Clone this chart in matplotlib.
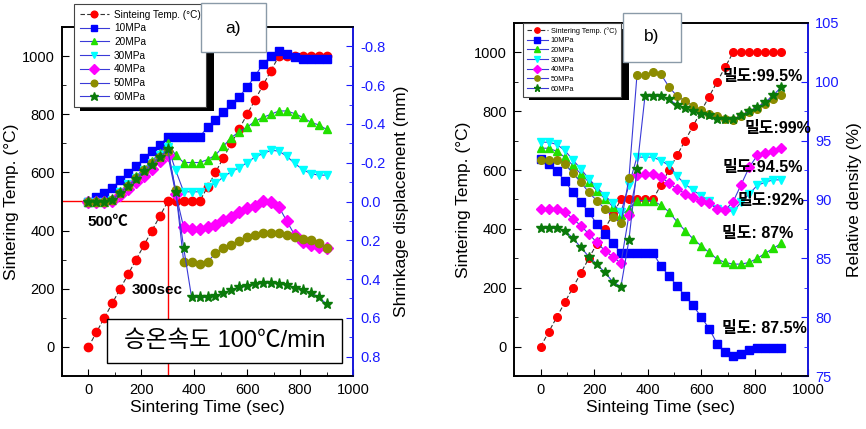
import matplotlib
matplotlib.use("Agg")
import matplotlib.pyplot as plt
from matplotlib.patches import Rectangle
from matplotlib.ticker import MultipleLocator, FormatStrFormatter

plt.rcParams['font.family'] = ['Liberation Sans', 'Noto Sans CJK KR', 'DejaVu Sans']
plt.rcParams['axes.unicode_minus'] = False

# sintering time (sec), one point every 30 s
time = [0, 30, 60, 90, 120, 150, 180, 210, 240, 270, 300, 330, 360, 390, 420, 450,
        480, 510, 540, 570, 600, 630, 660, 690, 720, 750, 780, 810, 840, 870, 900]
temp = [0, 50, 100, 150, 200, 250, 300, 350, 400, 450, 500, 500, 500, 500, 500, 550,
        600, 650, 700, 750, 800, 850, 900, 950, 1000, 1000, 1000, 1000, 1000, 1000, 1000]

labels = ['10MPa', '20MPa', '30MPa', '40MPa', '50MPa', '60MPa']

# a) shrinkage displacement (mm)
disp_10 = [0, -0.024, -0.045, -0.071, -0.110, -0.145, -0.184, -0.222, -0.262, -0.291, -0.333,
           -0.333, -0.333, -0.333, -0.333, -0.383, -0.421, -0.460, -0.502, -0.541, -0.590,
           -0.648, -0.710, -0.748, -0.774, -0.762, -0.745, -0.734, -0.734, -0.734, -0.734]
disp_20 = [0, 0, 0, -0.01, -0.05, -0.09, -0.13, -0.17, -0.21, -0.25, -0.30,
           -0.239, -0.201, -0.201, -0.201, -0.216, -0.239, -0.285, -0.330, -0.360, -0.384,
           -0.414, -0.434, -0.450, -0.467, -0.467, -0.453, -0.434, -0.409, -0.395, -0.372]
disp_30 = [0, 0, 0, -0.01, -0.05, -0.09, -0.12, -0.16, -0.20, -0.24, -0.28,
           -0.16, -0.05, -0.05, -0.05, -0.075, -0.093, -0.127, -0.153, -0.175, -0.201,
           -0.230, -0.247, -0.264, -0.260, -0.233, -0.196, -0.165, -0.144, -0.136, -0.136]
disp_40 = [0, 0, 0, -0.005, -0.035, -0.065, -0.10, -0.13, -0.17, -0.21, -0.24,
           -0.04, 0.134, 0.143, 0.143, 0.134, 0.119, 0.096, 0.079, 0.053, 0.036,
           0.024, -0.002, 0.002, 0.028, 0.102, 0.174, 0.208, 0.222, 0.234, 0.24]
disp_50 = [0, 0, 0, -0.01, -0.045, -0.08, -0.12, -0.16, -0.20, -0.23, -0.26,
           -0.058, 0.311, 0.311, 0.323, 0.311, 0.268, 0.242, 0.222, 0.203, 0.182,
           0.174, 0.165, 0.160, 0.162, 0.172, 0.182, 0.191, 0.199, 0.216, 0.242]
disp_60 = [0, 0, 0, -0.01, -0.045, -0.08, -0.115, -0.155, -0.19, -0.23, -0.27,
           -0.05, 0.239, 0.495, 0.495, 0.495, 0.488, 0.474, 0.457, 0.443, 0.437,
           0.428, 0.420, 0.420, 0.423, 0.431, 0.445, 0.457, 0.471, 0.492, 0.529]

# b) relative density (%)
dens_10 = [93.46, 93.03, 92.4, 91.6, 90.6, 89.8, 88.9, 87.92, 87.07, 86.3, 85.45,
           85.45, 85.45, 85.45, 85.45, 84.35, 83.5, 82.65, 81.8, 81.0, 80.03,
           79.03, 77.75, 77.04, 76.7, 76.85, 77.2, 77.4, 77.4, 77.4, 77.4]
dens_20 = [94.36, 94.36, 94.1, 93.6, 92.9, 92.18, 91.47, 90.76, 90.05, 89.4, 88.66,
           89.2, 89.9, 89.9, 89.9, 89.5, 88.95, 88.1, 87.35, 86.66, 86.07,
           85.5, 84.94, 84.65, 84.51, 84.51, 84.65, 85.0, 85.43, 85.85, 86.27]
dens_30 = [94.87, 94.87, 94.68, 94.17, 93.37, 92.6, 91.75, 91.04, 90.33, 89.68, 88.9,
           91.2, 93.6, 93.6, 93.6, 93.3, 92.9, 92.0, 91.3, 90.8, 90.3,
           89.9, 89.2, 89.05, 89.0, 89.76, 90.47, 91.2, 91.47, 91.67, 91.67]
dens_40 = [89.2, 89.2, 89.2, 88.97, 88.35, 87.78, 87.07, 86.35, 85.65, 85.14, 84.57,
           88.66, 92.04, 92.18, 92.18, 91.9, 91.4, 90.9, 90.5, 90.19, 89.9,
           89.7, 89.2, 89.1, 89.82, 91.27, 92.74, 93.74, 93.94, 94.08, 94.39]
dens_50 = [93.37, 93.37, 93.37, 93.03, 92.23, 91.47, 90.6, 89.9, 89.2, 88.54, 87.97,
           91.8, 100.55, 100.55, 100.84, 100.64, 99.56, 98.79, 98.37, 97.95, 97.57,
           97.23, 97.06, 96.83, 96.78, 97.06, 97.43, 97.71, 98.14, 98.57, 98.85]
dens_60 = [87.55, 87.55, 87.55, 87.35, 86.73, 85.93, 85.14, 84.51, 83.8, 83.0, 82.58,
           86.56, 92.6, 98.77, 98.77, 98.77, 98.5, 98.05, 97.8, 97.5, 97.3,
           97.15, 96.81, 96.81, 96.81, 97.15, 97.51, 97.85, 98.28, 98.85, 99.56]

density_notes = ['밀도:99.5%', '밀도:99%', '밀도:94.5%', '밀도:92%', '밀도: 87%', '밀도: 87.5%']
note_t = [680, 762, 680, 736, 680, 680]
note_d = [100.47, 96.04, 92.72, 89.9, 87.1, 79.0]

styles = [('s', '#0000ff'), ('^', '#22e000'), ('v', '#00ffff'),
          ('D', '#ff00ff'), ('o', '#8c8c00'), ('*', '#0a7a0a')]
line_col = '#3a3ad8'
blue = '#1a1aff'

W, H = 866, 429
fig = plt.figure(figsize=(W / 100, H / 100), dpi=100)


def fx(x):
    return x / W


def fy(y):
    return 1 - y / H


def style_axes(ax, axr):
    ax.set_xlim(-100, 1000)
    ax.set_ylim(-100, 1100)
    ax.xaxis.set_major_locator(MultipleLocator(200))
    ax.xaxis.set_minor_locator(MultipleLocator(100))
    ax.yaxis.set_major_locator(MultipleLocator(200))
    ax.yaxis.set_minor_locator(MultipleLocator(100))
    ax.tick_params(which='both', direction='in', labelsize=10.5, pad=5, top=False, right=False)
    ax.tick_params(which='major', length=5)
    ax.tick_params(which='minor', length=3)
    axr.tick_params(which='both', direction='in', labelsize=10.5, pad=5,
                    colors=blue, labelcolor=blue)
    axr.tick_params(which='major', length=5)
    axr.tick_params(which='minor', length=3)
    for a in (ax, axr):
        for s in a.spines.values():
            s.set_linewidth(1.2)
    axr.spines['right'].set_color(blue)


# ---------------- a) ----------------
ax1 = fig.add_axes([fx(62), fy(376), fx(291), 349 / H])
ax1r = ax1.twinx()
style_axes(ax1, ax1r)

ax1.hlines(500, -100, 300, color='red', lw=1)
ax1.vlines(300, -100, 500, color='red', lw=1)

h_t1, = ax1.plot(time, temp, color='#333333', lw=0.8, ls=(0, (4, 2)),
                 marker='o', ms=6, mfc='red', mec='red', label='Sinteing Temp. (°C)', zorder=5)
handles1 = [h_t1]
for d, lab, (mk, c) in zip([disp_10, disp_20, disp_30, disp_40, disp_50, disp_60], labels, styles):
    ms = 8 if mk == '*' else 6
    h, = ax1r.plot(time, d, color=line_col, lw=0.8, marker=mk, ms=ms, mfc=c, mec=c, label=lab)
    handles1.append(h)
ax1r.set_ylim(0.9, -0.9)
ax1r.yaxis.set_major_locator(MultipleLocator(0.2))
ax1r.yaxis.set_minor_locator(MultipleLocator(0.1))
ax1r.yaxis.set_major_formatter(FormatStrFormatter('%.1f'))

ax1.set_xlabel('Sintering Time (sec)', fontsize=12.5, labelpad=2)
ax1.set_ylabel('Sintering Temp. (°C)', fontsize=12.5, labelpad=2)
ax1r.set_ylabel('Shrinkage displacement (mm)', fontsize=12.5, labelpad=6)

ax1.text(-5, 430, '500℃', fontsize=11, fontweight='bold', va='center', ha='left')
ax1.text(165, 196, '300sec', fontsize=11, fontweight='bold', va='center', ha='left')
ax1.add_patch(Rectangle((0.155, 0.037), 0.807, 0.126, transform=ax1.transAxes,
                        facecolor='white', edgecolor='black', lw=1, zorder=10))
ax1.text(0.558, 0.100, '승온속도 100℃/min', transform=ax1.transAxes, fontsize=17,
         ha='center', va='center', zorder=11)

fig.patches.append(Rectangle((fx(80), fy(111)), fx(134), 101 / H, transform=fig.transFigure,
                             facecolor='black', edgecolor='none', zorder=4))
leg1 = fig.legend(handles1, [h.get_label() for h in handles1], loc='upper left',
                  bbox_to_anchor=(fx(74), fy(4)), bbox_transform=fig.transFigure,
                  fontsize=7.2, fancybox=False, framealpha=1, edgecolor='#444444',
                  borderaxespad=0, borderpad=0.55, labelspacing=0.37,
                  handlelength=2.9, handletextpad=0.55, markerscale=0.8)
leg1.get_frame().set_linewidth(0.8)
leg1.set_zorder(5)
fig.patches.append(Rectangle((fx(201), fy(52)), fx(65), 49 / H, transform=fig.transFigure,
                             facecolor='white', edgecolor='#8a9aa8', lw=1, zorder=6))
fig.text(fx(233.5), fy(28), 'a)', fontsize=12.5, ha='center', va='center', zorder=7)

# ---------------- b) ----------------
ax2 = fig.add_axes([fx(514), fy(376), fx(294), 353 / H])
ax2r = ax2.twinx()
style_axes(ax2, ax2r)

h_t2, = ax2.plot(time, temp, color='#333333', lw=0.8, ls=(0, (4, 2)),
                 marker='o', ms=5.5, mfc='red', mec='red', label='Sintering Temp. (°C)', zorder=5)
handles2 = [h_t2]
for d, lab, (mk, c) in zip([dens_10, dens_20, dens_30, dens_40, dens_50, dens_60], labels, styles):
    ms = 7.5 if mk == '*' else 5.5
    h, = ax2r.plot(time, d, color=line_col, lw=0.8, marker=mk, ms=ms, mfc=c, mec=c, label=lab)
    handles2.append(h)
ax2r.set_ylim(75, 105)
ax2r.yaxis.set_major_locator(MultipleLocator(5))
ax2r.yaxis.set_minor_locator(MultipleLocator(2.5))

ax2.set_xlabel('Sinteing Time (sec)', fontsize=12.5, labelpad=2)
ax2.set_ylabel('Sintering Temp. (°C)', fontsize=12.5, labelpad=2)
ax2r.set_ylabel('Relative density (%)', fontsize=12.5, labelpad=5)

for txt, t, d in zip(density_notes, note_t, note_d):
    ax2r.text(t, d, txt, fontsize=11.5, fontweight='bold', ha='left', va='center',
              zorder=12, clip_on=False)

fig.patches.append(Rectangle((fx(529), fy(100)), fx(100), 71 / H, transform=fig.transFigure,
                             facecolor='black', edgecolor='none', zorder=4))
leg2 = fig.legend(handles2, [h.get_label() for h in handles2], loc='upper left',
                  bbox_to_anchor=(fx(523), fy(23)), bbox_transform=fig.transFigure,
                  fontsize=5.3, fancybox=False, framealpha=1, edgecolor='#444444',
                  borderaxespad=0, borderpad=0.55, labelspacing=0.34,
                  handlelength=2.8, handletextpad=0.4, markerscale=0.7)
leg2.get_frame().set_linewidth(0.8)
leg2.set_zorder(5)
fig.patches.append(Rectangle((fx(623), fy(62)), fx(58), 49 / H, transform=fig.transFigure,
                             facecolor='white', edgecolor='#8a9aa8', lw=1, zorder=6))
fig.text(fx(652), fy(37), 'b)', fontsize=12.5, ha='center', va='center', zorder=7)

fig.savefig('out.png', dpi=100)
